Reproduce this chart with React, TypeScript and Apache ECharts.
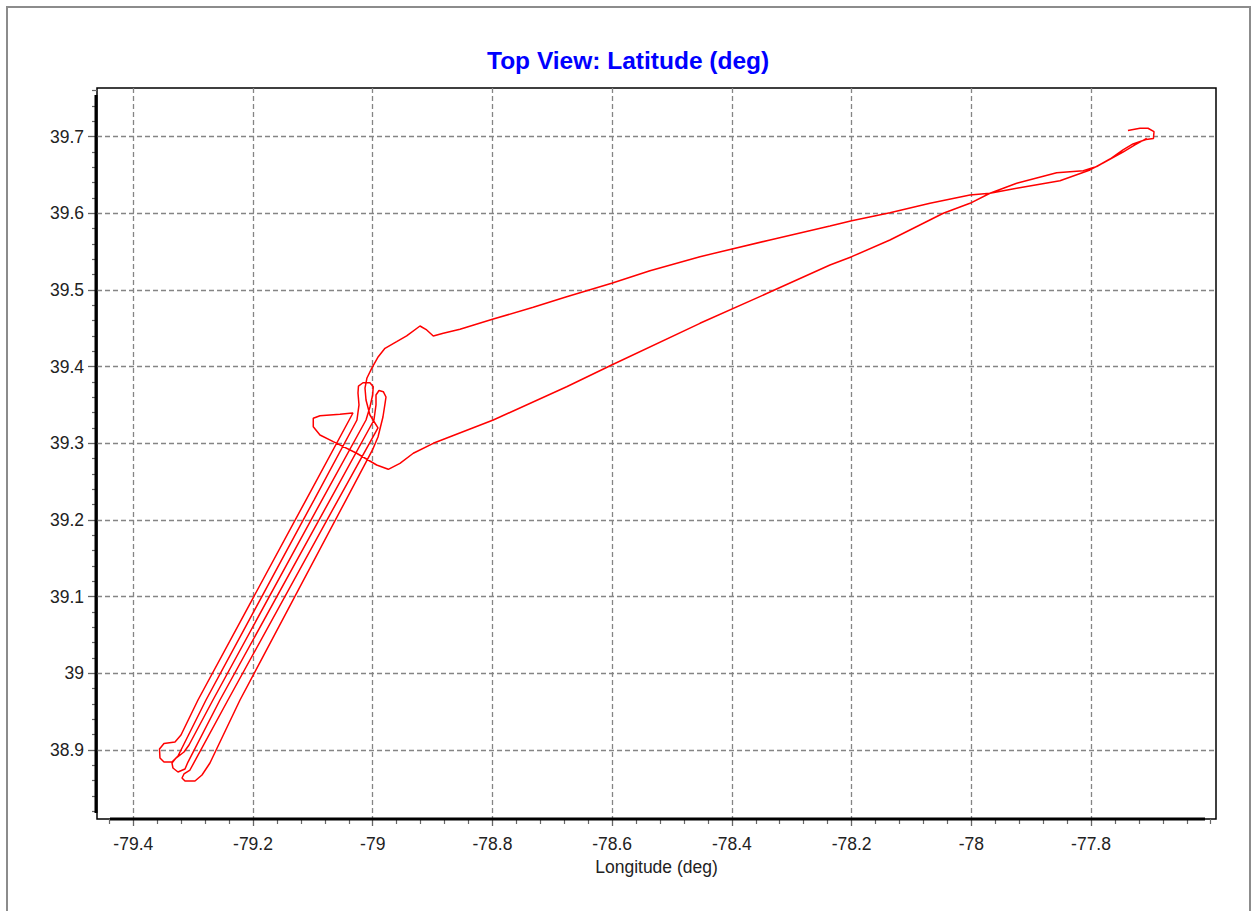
import React, { useEffect, useRef } from 'react';
import * as echarts from 'echarts';

const TITLE = 'Top View: Latitude (deg)';
const X_NAME = 'Longitude (deg)';
const FONT = "'Liberation Sans', Arial, sans-serif";

// axis extents (deg)
const X_MIN = -79.4606;
const X_MAX = -77.5912;
const Y_MIN = 38.8101;
const Y_MAX = 39.7635;

// labelled ticks
const xMajorTicks = [-79.4, -79.2, -79, -78.8, -78.6, -78.4, -78.2, -78, -77.8];
const yMajorTicks = [38.9, 39, 39.1, 39.2, 39.3, 39.4, 39.5, 39.6, 39.7];

// outbound leg from the airport to the south-west corner
const outboundLon = [-77.7383, -77.7182, -77.7048, -77.6948, -77.6957, -77.7082, -77.7299, -77.7466, -77.7683, -77.7905, -77.8129, -77.8574, -77.9242, -77.9688, -78.0022, -78.0468, -78.1359, -78.1998, -78.2361, -78.3363, -78.4533, -78.6008, -78.676, -78.7986, -78.8988, -78.9322, -78.9545, -78.974];
const outboundLat = [39.7081, 39.711, 39.711, 39.7065, 39.6977, 39.6963, 39.6905, 39.6827, 39.6709, 39.6611, 39.6557, 39.653, 39.6392, 39.6262, 39.6131, 39.6001, 39.5653, 39.5435, 39.5327, 39.4974, 39.4566, 39.4022, 39.3739, 39.3305, 39.3001, 39.2871, 39.274, 39.2662];

// north-west loop
const nwLoopLon = [-78.9934, -79.0268, -79.0659, -79.0881, -79.0993, -79.0993, -79.0881, -79.0547, -79.038, -79.033];
const nwLoopLat = [39.2718, 39.2871, 39.3022, 39.3109, 39.3218, 39.3327, 39.3361, 39.3379, 39.3392, 39.3396];

// survey pattern (parallel legs with turns)
const surveyLon = [
  -79.1115, -79.2919, -79.3203,
  -79.3303, -79.3487, -79.3562, -79.3554, -79.3487, -79.3353, -79.3253,
  -79.2785, -79.0981, -79.0263,
  -79.0229, -79.0246, -79.0238, -79.0163, -79.0046, -78.9991, -79.0001, -79.0046,
  -79.0112, -79.0848, -79.2669, -79.3069,
  -79.3153, -79.3287, -79.3353, -79.3337, -79.3253, -79.3136, -79.3086,
  -79.2552, -79.0714, -78.9979,
  -78.9945, -78.9945, -78.9895, -78.9823, -78.9778, -78.9795, -78.9829,
  -78.9912, -79.0004, -79.0447, -79.2217, -79.2719,
  -79.2852, -79.2969, -79.3136, -79.3186, -79.3153, -79.3053,
  -79.2418, -79.058, -78.9912,
  -79.0046, -79.0112, -79.0129, -79.0096,
];
const surveyLat = [
  39.2261, 38.9653, 38.9196,
  38.9105, 38.9085, 38.9014, 38.8896, 38.8844, 38.8844, 38.8923,
  38.9653, 39.2261, 39.3305,
  39.3501, 39.3657, 39.3748, 39.3791, 39.3791, 39.3739, 39.3631, 39.3474,
  39.3305, 39.2261, 38.9653, 38.9066,
  38.8975, 38.8896, 38.8831, 38.8766, 38.8714, 38.8753, 38.8844,
  38.9653, 39.2261, 39.3305,
  39.3501, 39.3631, 39.369, 39.3674, 39.3605, 39.3514, 39.3344,
  39.3083, 39.2914, 39.2261, 38.9653, 38.8831,
  38.8675, 38.8596, 38.8596, 38.8636, 38.8688, 38.874,
  38.9653, 39.2261, 39.3201,
  39.337, 39.3566, 39.3722, 39.3853,
];

// return leg back to the airport
const returnLon = [-79.0017, -78.9907, -78.9795, -78.96, -78.9433, -78.921, -78.9098, -78.8988, -78.8821, -78.8542, -78.7986, -78.7318, -78.676, -78.6008, -78.5368, -78.4533, -78.3363, -78.2361, -78.1998, -78.1359, -78.069, -78.0022, -77.9688, -77.9242, -77.8519, -77.8017, -77.78, -77.7466, -77.7266, -77.707];
const returnLat = [39.3979, 39.4131, 39.424, 39.4326, 39.4401, 39.4531, 39.4479, 39.4401, 39.4436, 39.4488, 39.4622, 39.4775, 39.4913, 39.5088, 39.5252, 39.5435, 39.5653, 39.5835, 39.5904, 39.6009, 39.6131, 39.624, 39.6262, 39.6327, 39.6426, 39.6566, 39.6657, 39.68, 39.6892, 39.6979];

function steps(from: number, to: number, step: number, skip: number[]) {
  const out: number[] = [];
  const n = Math.round((to - from) / step);
  for (let i = 0; i <= n; i++) {
    const v = +(from + i * step).toFixed(2);
    if (!skip.some((m) => Math.abs(m - v) < 1e-6)) out.push(v);
  }
  return out;
}

const xMinorTicks = steps(-79.44, -77.6, 0.04, xMajorTicks);
const yMinorTicks = steps(38.82, 39.76, 0.02, yMajorTicks);

function pairs(lon: number[], lat: number[]) {
  return lon.map((v, i) => [v, lat[i]]);
}

const track = [
  ...pairs(outboundLon, outboundLat),
  ...pairs(nwLoopLon, nwLoopLat),
  ...pairs(surveyLon, surveyLat),
  ...pairs(returnLon, returnLat),
];

const fmt = (v: number) => String(+(+v).toFixed(2));

export default function App() {
  const ref = useRef<HTMLDivElement>(null);

  useEffect(() => {
    if (!ref.current) return;
    const chart = echarts.init(ref.current, undefined, { renderer: 'svg' });
    const gridLine = { show: true, lineStyle: { color: '#858585', type: [5, 3], width: 1.3 } };
    const labelStyle = { fontSize: 17.5, color: '#222', fontFamily: FONT };
    chart.setOption({
      animation: false,
      backgroundColor: 'transparent',
      title: {
        text: TITLE,
        left: 487,
        top: 48,
        padding: 0,
        textStyle: { color: '#0000ff', fontWeight: 'bold', fontSize: 24.5, fontFamily: FONT },
      },
      grid: {
        left: 97,
        right: 36,
        top: 88,
        bottom: 92,
        show: true,
        borderColor: '#000',
        borderWidth: 1.5,
        backgroundColor: 'transparent',
        outerBoundsMode: 'none',
      },
      xAxis: [
        {
          type: 'value',
          min: X_MIN,
          max: X_MAX,
          position: 'bottom',
          name: X_NAME,
          nameLocation: 'middle',
          nameGap: 37,
          nameTextStyle: { fontSize: 17.5, color: '#222', fontFamily: FONT },
          axisLine: { show: false },
          axisTick: { show: true, customValues: xMajorTicks, length: 7, lineStyle: { color: '#666', width: 1.3 } },
          axisLabel: { customValues: xMajorTicks, margin: 16, formatter: fmt, ...labelStyle },
          splitLine: gridLine,
        },
        {
          type: 'value',
          min: X_MIN,
          max: X_MAX,
          position: 'bottom',
          axisLine: { show: false },
          axisTick: { show: true, customValues: xMinorTicks, length: 5, lineStyle: { color: '#666', width: 1.2 } },
          axisLabel: { show: false },
          splitLine: { show: false },
        },
      ],
      yAxis: [
        {
          type: 'value',
          min: Y_MIN,
          max: Y_MAX,
          position: 'left',
          axisLine: { show: false },
          axisTick: { show: true, customValues: yMajorTicks, length: 9, lineStyle: { color: '#666', width: 1.3 } },
          axisLabel: { customValues: yMajorTicks, margin: 13, formatter: fmt, ...labelStyle },
          splitLine: gridLine,
        },
        {
          type: 'value',
          min: Y_MIN,
          max: Y_MAX,
          position: 'left',
          axisLine: { show: false },
          axisTick: { show: true, customValues: yMinorTicks, length: 5, lineStyle: { color: '#666', width: 1.2 } },
          axisLabel: { show: false },
          splitLine: { show: false },
        },
      ],
      graphic: [
        { type: 'line', z: 100, shape: { x1: 110, y1: 819, x2: 1205, y2: 819 }, style: { stroke: '#000', lineWidth: 3 } },
        { type: 'line', z: 100, shape: { x1: 96, y1: 95, x2: 96, y2: 813 }, style: { stroke: '#000', lineWidth: 3 } },
      ],
      series: [
        {
          type: 'line',
          xAxisIndex: 0,
          yAxisIndex: 0,
          data: track,
          showSymbol: false,
          symbol: 'none',
          silent: true,
          lineStyle: { color: '#ff0000', width: 1.5 },
        },
      ],
    });
    return () => chart.dispose();
  }, []);

  return (
    <div style={{ position: 'fixed', left: 0, top: 0, width: 1252, height: 911, overflow: 'hidden', background: '#fff' }}>
      <div
        style={{
          position: 'absolute',
          left: 6,
          top: 6,
          width: 1245,
          height: 980,
          border: '2px solid #8c8c8c',
          boxSizing: 'border-box',
        }}
      />
      <div ref={ref} style={{ position: 'absolute', left: 0, top: 0, width: 1252, height: 911 }} />
    </div>
  );
}
